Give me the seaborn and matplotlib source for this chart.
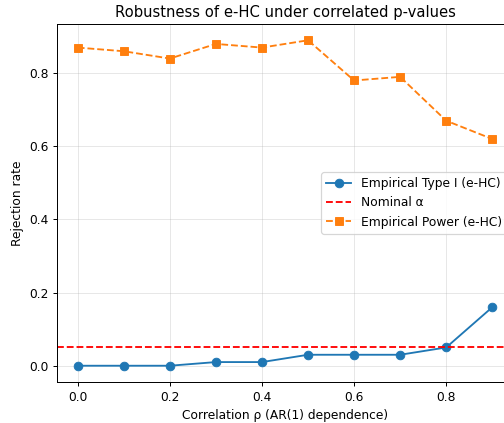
import matplotlib
matplotlib.use("Agg")
import matplotlib.pyplot as plt
import seaborn as sns
import pandas as pd

rho = [0.0, 0.1, 0.2, 0.3, 0.4, 0.5, 0.6, 0.7, 0.8, 0.9]
type1 = [0.0, 0.0, 0.0, 0.01, 0.01, 0.03, 0.03, 0.03, 0.05, 0.16]
power = [0.87, 0.86, 0.84, 0.88, 0.87, 0.89, 0.78, 0.79, 0.67, 0.62]
alpha = 0.05

df = pd.DataFrame({"rho": rho, "type1": type1, "power": power})

DPI = 88.5
fig = plt.figure(figsize=(505 / DPI, 423 / DPI), dpi=DPI)
ax = fig.add_axes([57/505, 41/423, 456/505, 358/423])

sns.lineplot(data=df, x="rho", y="type1", marker="o", markersize=7, color="#1f77b4",
             markeredgecolor="#1f77b4", label="Empirical Type I (e-HC)", ax=ax)
ax.axhline(alpha, color="red", linestyle="--", label="Nominal α")
sns.lineplot(data=df, x="rho", y="power", marker="s", markersize=7, color="#ff7f0e",
             markeredgecolor="#ff7f0e", linestyle="--", label="Empirical Power (e-HC)", ax=ax)

ax.set_title("Robustness of e-HC under correlated p-values", fontsize=12)
ax.set_xlabel("Correlation ρ (AR(1) dependence)")
ax.set_ylabel("Rejection rate")
ax.grid(True, alpha=0.3)
ax.legend(loc="center right")

fig.savefig("out.png", dpi=DPI)
